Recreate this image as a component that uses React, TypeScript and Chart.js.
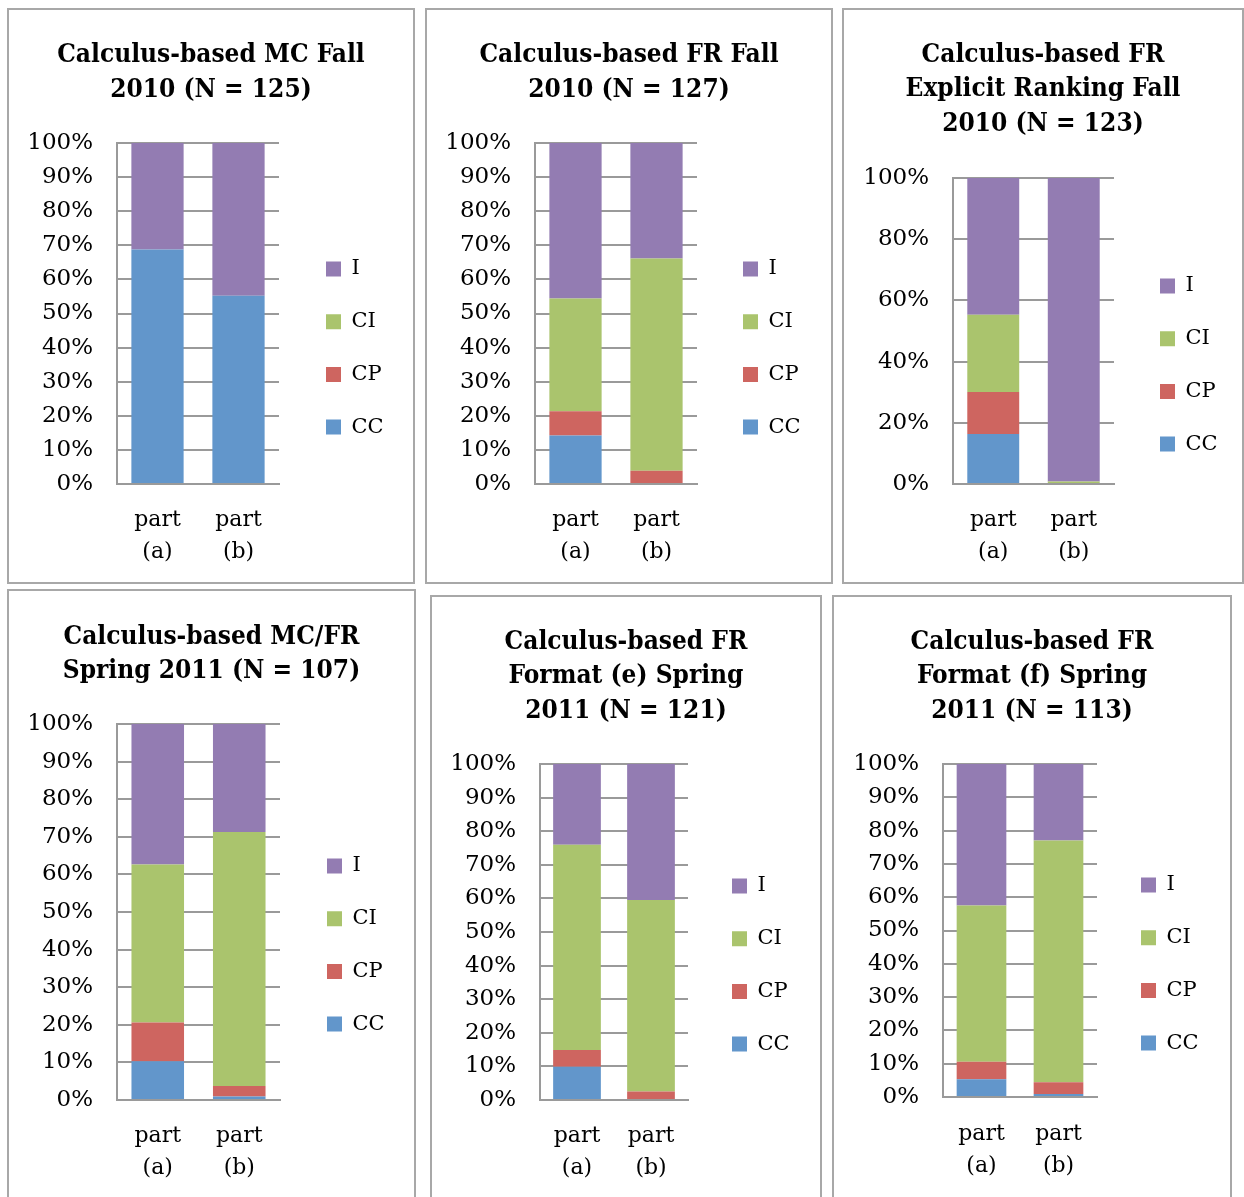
import React, { useEffect, useRef } from "react";
import { Chart, registerables } from "chart.js";

Chart.register(...registerables);

// ---------- data ----------
const categories = [["part", "(a)"], ["part", "(b)"]];
const seriesNames = ["CC", "CP", "CI", "I"];
const seriesColors = ["#6296CB", "#CE6560", "#AAC46D", "#937CB2"];

const titles = [
  ["Calculus-based MC Fall", "2010 (N = 125)"],
  ["Calculus-based FR Fall", "2010 (N = 127)"],
  ["Calculus-based FR", "Explicit Ranking Fall", "2010 (N = 123)"],
  ["Calculus-based MC/FR", "Spring 2011 (N = 107)"],
  ["Calculus-based FR", "Format (e) Spring", "2011 (N = 121)"],
  ["Calculus-based FR", "Format (f) Spring", "2011 (N = 113)"],
];

// values in percent, [part (a), part (b)]
const mcFall2010CC = [68.8, 55.2];
const mcFall2010CP = [0, 0];
const mcFall2010CI = [0, 0];
const mcFall2010I = [31.2, 44.8];

const frFall2010CC = [14.2, 0];
const frFall2010CP = [7.1, 3.9];
const frFall2010CI = [33.1, 62.2];
const frFall2010I = [45.6, 33.9];

const rankFall2010CC = [16.3, 0];
const rankFall2010CP = [13.8, 0];
const rankFall2010CI = [25.2, 0.8];
const rankFall2010I = [44.7, 99.2];

const mcfrSpring2011CC = [10.3, 0.9];
const mcfrSpring2011CP = [10.3, 2.8];
const mcfrSpring2011CI = [42.0, 67.6];
const mcfrSpring2011I = [37.4, 28.7];

const fmtESpring2011CC = [9.9, 0];
const fmtESpring2011CP = [5.0, 2.5];
const fmtESpring2011CI = [61.1, 57.0];
const fmtESpring2011I = [24.0, 40.5];

const fmtFSpring2011CC = [5.3, 0.9];
const fmtFSpring2011CP = [5.3, 3.5];
const fmtFSpring2011CI = [46.9, 72.6];
const fmtFSpring2011I = [42.5, 23.0];

const yTickSteps = [10, 10, 20, 10, 10, 10];

const panelSeries = [
  [mcFall2010CC, mcFall2010CP, mcFall2010CI, mcFall2010I],
  [frFall2010CC, frFall2010CP, frFall2010CI, frFall2010I],
  [rankFall2010CC, rankFall2010CP, rankFall2010CI, rankFall2010I],
  [mcfrSpring2011CC, mcfrSpring2011CP, mcfrSpring2011CI, mcfrSpring2011I],
  [fmtESpring2011CC, fmtESpring2011CP, fmtESpring2011CI, fmtESpring2011I],
  [fmtFSpring2011CC, fmtFSpring2011CP, fmtFSpring2011CI, fmtFSpring2011I],
];

// ---------- layout (page coordinates) ----------
type Geo = {
  box: { x: number; y: number; w: number; h: number };
  plot: { l: number; r: number; t: number; b: number };
  title1: number;
  titleLH: number;
  legend1: number;
  legendX: number;
  xlab1: number;
};

const geos: Geo[] = [
  { box: { x: 7, y: 8, w: 408, h: 576 }, plot: { l: 117, r: 279, t: 143, b: 484 }, title1: 55, titleLH: 35, legend1: 269, legendX: 326, xlab1: 520 },
  { box: { x: 425, y: 8, w: 408, h: 576 }, plot: { l: 535, r: 697, t: 143, b: 484 }, title1: 55, titleLH: 35, legend1: 269, legendX: 743, xlab1: 520 },
  { box: { x: 842, y: 8, w: 402, h: 576 }, plot: { l: 953, r: 1114, t: 178, b: 484 }, title1: 55, titleLH: 34.5, legend1: 286, legendX: 1160, xlab1: 520 },
  { box: { x: 7, y: 589, w: 409, h: 630 }, plot: { l: 117, r: 280, t: 724, b: 1100 }, title1: 637, titleLH: 34.5, legend1: 866, legendX: 327, xlab1: 1136 },
  { box: { x: 430, y: 595, w: 392, h: 630 }, plot: { l: 540, r: 688, t: 764, b: 1100 }, title1: 642, titleLH: 34.5, legend1: 886, legendX: 732, xlab1: 1136 },
  { box: { x: 832, y: 595, w: 400, h: 630 }, plot: { l: 943, r: 1097, t: 764, b: 1097 }, title1: 642, titleLH: 34.5, legend1: 885, legendX: 1141, xlab1: 1134 },
];

const BORDER = 2;
const FONT = "'DejaVu Serif', serif";
const TITLE_FONT = "'DejaVu Serif Condensed', 'DejaVu Serif', serif";
const TICK_SIZE = 23;
const LEGEND_SIZE = 21;
const LEGEND_PAD = 31.7;
const XLAB_LH = 32;
const LEGEND_W = 95;

function Panel({ idx }: { idx: number }) {
  const ref = useRef<HTMLCanvasElement | null>(null);
  const g = geos[idx];
  const cl = g.box.x + BORDER;
  const ct = g.box.y + BORDER;
  const cw = g.box.w - 2 * BORDER;
  const ch = g.box.h - 2 * BORDER;

  useEffect(() => {
    if (!ref.current) return;
    const nTitle = titles[idx].length;
    const tPadTop = g.title1 - ct - g.titleLH / 2;
    const tPadBottom = g.plot.t - ct - tPadTop - nTitle * g.titleLH;
    const yAxisW = g.plot.l - cl;
    const gapW = g.legendX - g.plot.r - LEGEND_PAD;
    const outerW = Math.max(1, cw - (g.plot.r - cl) - gapW - LEGEND_W);
    const legendTitleH = g.legend1 - ct - LEGEND_SIZE / 2 - LEGEND_PAD;
    const xAxisH = ch - (g.plot.b - ct);
    const xPad = g.xlab1 - g.plot.b - XLAB_LH / 2;

    const chart = new Chart(ref.current, {
      type: "bar",
      data: {
        labels: categories,
        datasets: seriesNames.map((name, i) => ({
          label: name,
          data: panelSeries[idx][i],
          backgroundColor: seriesColors[i],
          borderWidth: 0,
          barPercentage: 0.645,
          categoryPercentage: 1,
        })),
      },
      options: {
        animation: false,
        responsive: false,
        devicePixelRatio: 1,
        layout: { padding: 0 },
        plugins: {
          tooltip: { enabled: false },
          title: {
            display: true,
            text: titles[idx],
            color: "#000",
            font: { family: TITLE_FONT, size: 26, weight: "bold", lineHeight: g.titleLH / 26 },
            padding: { top: tPadTop, bottom: tPadBottom },
          },
          legend: {
            position: "right",
            align: "start",
            reverse: true,
            maxWidth: LEGEND_W,
            title: {
              display: true,
              text: " ",
              font: { size: 10, lineHeight: 1 },
              padding: { top: legendTitleH - 10, bottom: 0 },
            },
            labels: {
              boxWidth: 15,
              boxHeight: 15,
              padding: LEGEND_PAD,
              color: "#000",
              font: { family: FONT, size: LEGEND_SIZE },
            },
          },
        },
        scales: {
          x: {
            stacked: true,
            grid: { display: false, drawTicks: false },
            border: { display: true, color: "#9a9a9a", width: 2 },
            ticks: {
              color: "#000",
              padding: xPad,
              font: { family: FONT, size: TICK_SIZE - 1, lineHeight: XLAB_LH / (TICK_SIZE - 1) },
            },
            afterFit: (s: any) => {
              s.height = xAxisH;
            },
          },
          y: {
            stacked: true,
            min: 0,
            max: 100,
            grid: { color: "#9a9a9a", lineWidth: 2, drawTicks: false },
            border: { display: true, color: "#9a9a9a", width: 2 },
            ticks: {
              stepSize: yTickSteps[idx],
              color: "#000",
              padding: 24,
              font: { family: FONT, size: TICK_SIZE },
              callback: (v: any) => v + "%",
            },
            afterFit: (s: any) => {
              s.width = yAxisW;
            },
          },
          gap: {
            position: "right",
            display: true,
            weight: 0,
            grid: { display: false, drawTicks: false },
            border: { display: false },
            ticks: { display: false },
            afterFit: (s: any) => {
              s.width = gapW;
            },
          },
          outer: {
            position: "right",
            display: true,
            weight: 3000,
            grid: { display: false, drawTicks: false },
            border: { display: false },
            ticks: { display: false },
            afterFit: (s: any) => {
              s.width = outerW;
            },
          },
        },
      },
    } as any);
    return () => chart.destroy();
  }, [idx]);

  return (
    <div
      style={{
        position: "absolute",
        left: g.box.x,
        top: g.box.y,
        width: cw,
        height: ch,
        border: `${BORDER}px solid #a8a8a8`,
        background: "#fff",
      }}
    >
      <canvas ref={ref} width={cw} height={ch} style={{ display: "block", width: cw, height: ch }} />
    </div>
  );
}

export default function App() {
  return (
    <div
      style={{
        position: "absolute",
        left: 0,
        top: 0,
        width: 1244,
        height: 1197,
        overflow: "hidden",
        background: "#fff",
      }}
    >
      {geos.map((_, i) => (
        <Panel key={i} idx={i} />
      ))}
    </div>
  );
}
